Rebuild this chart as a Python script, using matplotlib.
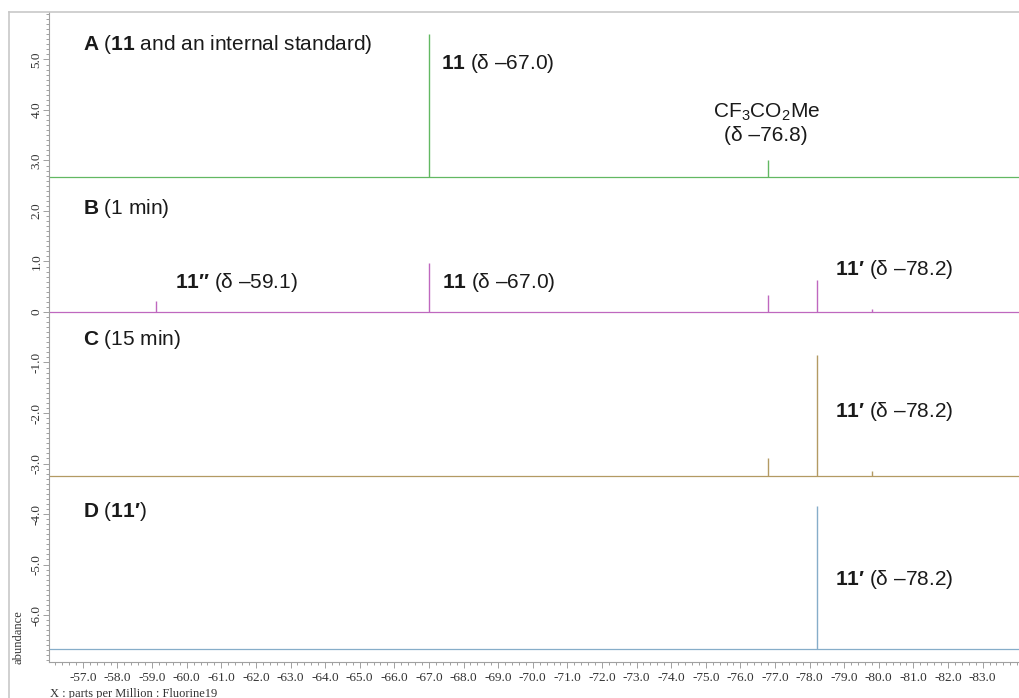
import numpy as np
import matplotlib.pyplot as plt
from matplotlib.lines import Line2D
from matplotlib.ticker import FixedLocator, MultipleLocator, FuncFormatter

# stacked 19F spectra: baseline offset and peaks (ppm, height above baseline)
offsets = [2.68, 0.0, -3.25, -6.67]
peak_ppm = [[-67.0, -76.8],
            [-59.1, -67.0, -76.8, -78.2, -79.8],
            [-76.8, -78.2, -79.8],
            [-78.2]]
peak_height = [[2.83, 0.32],
               [0.22, 0.97, 0.33, 0.63, 0.05],
               [0.36, 2.39, 0.10],
               [2.82]]
colors = ['#62b862', '#bf68bf', '#b39a63', '#86adc9']

panel_titles = [r'$\mathbf{A}$ ($\mathbf{11}$ and an internal standard)',
                r'$\mathbf{B}$ (1 min)',
                r'$\mathbf{C}$ (15 min)',
                r'$\mathbf{D}$ ($\mathbf{11′}$)']
title_y = [5.3, 2.05, -0.55, -3.95]

# peak annotations: text, x (ppm), y (abundance), alignment
notes = [(r'$\mathbf{11}$ (δ –67.0)', -67.35, 4.93, 'left'),
         (r'CF$_3$CO$_2$Me', -76.77, 3.96, 'center'),
         ('(δ –76.8)', -76.74, 3.5, 'center'),
         (r'$\mathbf{11″}$ (δ –59.1)', -59.66, 0.59, 'left'),
         (r'$\mathbf{11}$ (δ –67.0)', -67.38, 0.59, 'left'),
         (r'$\mathbf{11′}$ (δ –78.2)', -78.73, 0.85, 'left'),
         (r'$\mathbf{11′}$ (δ –78.2)', -78.73, -1.98, 'left'),
         (r'$\mathbf{11′}$ (δ –78.2)', -78.73, -5.3, 'left')]

x_ticks = np.arange(-57, -84, -1)

plt.rcParams['font.family'] = ['Liberation Sans', 'DejaVu Sans']
plt.rcParams['mathtext.fontset'] = 'custom'
plt.rcParams['mathtext.rm'] = 'Liberation Sans'
plt.rcParams['mathtext.bf'] = 'Liberation Sans:bold'
plt.rcParams['axes.unicode_minus'] = False

fig = plt.figure(figsize=(10.2, 6.98), dpi=100)
ax = fig.add_axes([0.048, 0.0516, 0.952, 0.9312])

for off, xs, hs, c in zip(offsets, peak_ppm, peak_height, colors):
    ax.axhline(off, color=c, lw=0.9)
    ax.vlines(xs, off, off + np.array(hs), color=c, lw=1.0)

ax.set_xlim(-56.02, -84.08)
ax.set_ylim(-6.93, 5.94)

txt = dict(fontsize=15, color='#1a1a1a', va='center')
for t, y in zip(panel_titles, title_y):
    ax.text(-57.0, y, t, ha='left', **txt)
for t, x, y, ha in notes:
    ax.text(x, y, t, ha=ha, **txt)

# axes styling like the spectrometer printout
for s in ['top', 'right']:
    ax.spines[s].set_visible(False)
for s in ['left', 'bottom']:
    ax.spines[s].set_color('#a0a0a0')
    ax.spines[s].set_linewidth(0.8)

ax.xaxis.set_major_locator(FixedLocator(x_ticks))
ax.xaxis.set_minor_locator(MultipleLocator(0.2))
ax.xaxis.set_major_formatter(FuncFormatter(lambda v, p: f'{v:.1f}'))
ax.yaxis.set_major_locator(MultipleLocator(1.0))
ax.yaxis.set_minor_locator(MultipleLocator(0.1))
ax.yaxis.set_major_formatter(FuncFormatter(lambda v, p: '0' if abs(v) < 1e-9 else f'{v:.1f}'))

ax.tick_params(which='both', direction='out', color='#a0a0a0', width=0.7)
ax.tick_params(which='major', length=4)
ax.tick_params(which='minor', length=2.5)
ax.tick_params(axis='x', labelsize=9.5, labelcolor='#333333', pad=3)
ax.tick_params(axis='y', labelsize=9.5, labelcolor='#333333', labelrotation=90, pad=0.5)
for lbl in ax.get_xticklabels() + ax.get_yticklabels():
    lbl.set_fontfamily('Liberation Serif')
for lbl in ax.get_yticklabels():
    lbl.set_va('center')

fig.text(50 / 1020, 1 - 694 / 698, 'X : parts per Million : Fluorine19',
         family='Liberation Serif', fontsize=9, color='#333333', va='center', ha='left')
fig.text(19 / 1020, 1 - 637 / 698, 'abundance', rotation=90,
         family='Liberation Serif', fontsize=9, color='#333333', va='center', ha='center')

# light outer frame
fig.add_artist(Line2D([9 / 1020, 9 / 1020], [0, 1 - 12 / 698], transform=fig.transFigure,
                      color='#c8c8c8', lw=1.2))
fig.add_artist(Line2D([9 / 1020, 1], [1 - 12 / 698, 1 - 12 / 698], transform=fig.transFigure,
                      color='#c8c8c8', lw=1.2))

fig.savefig('out.png', dpi=100)
